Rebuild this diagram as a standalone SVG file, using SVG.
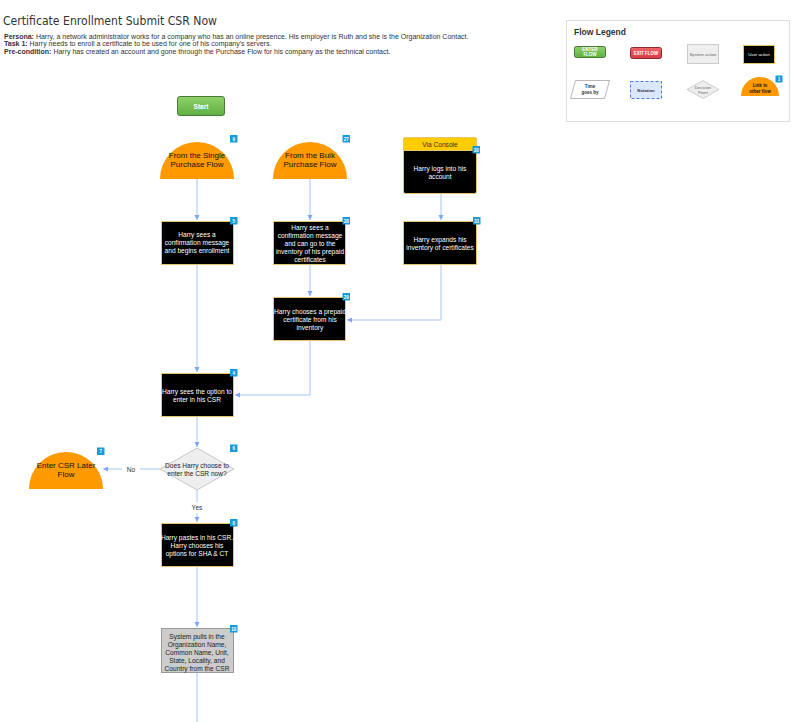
<svg xmlns="http://www.w3.org/2000/svg" width="800" height="722" viewBox="0 0 800 722">
<defs>
<style>
.t{font-family:"Liberation Sans",Arial,sans-serif}
.title{font-family:"DejaVu Sans Condensed","DejaVu Sans",Verdana,sans-serif;font-size:12.5px;fill:#333}
.intro{font-family:"Liberation Sans",Arial,sans-serif;font-size:7px;fill:#333}
.user{fill:#000;stroke:#e6c46a;stroke-width:1}
.ut{font-family:"Liberation Sans",Arial,sans-serif;font-size:6.6px;fill:#fff;text-anchor:middle}
.sys{fill:#cccccc;stroke:#999;stroke-width:1}
.st{font-family:"Liberation Sans",Arial,sans-serif;font-size:6.6px;fill:#222;text-anchor:middle}
.link{fill:#ff9900}
.lt{font-family:"Liberation Sans",Arial,sans-serif;font-size:8px;fill:#111;text-anchor:middle}
.badge{fill:#1a9ad6}
.bt{font-family:"Liberation Sans",Arial,sans-serif;font-size:4.5px;fill:#fff;text-anchor:middle;font-weight:bold}
.conn{fill:none;stroke:#a4c2f8;stroke-width:1}
.lbl{font-family:"Liberation Sans",Arial,sans-serif;font-size:6.6px;fill:#333;text-anchor:middle}
.dec{fill:#eeeeee;stroke:#bbb;stroke-width:0.8}
</style>
<marker id="arr" markerWidth="6" markerHeight="6" refX="5" refY="3" orient="auto" markerUnits="userSpaceOnUse">
<path d="M0,0.5 L5,3 L0,5.5 Z" fill="#7aa6f5"/>
</marker>
<linearGradient id="green" x1="0" y1="0" x2="0" y2="1"><stop offset="0" stop-color="#8fd16a"/><stop offset="1" stop-color="#5fb043"/></linearGradient>
<linearGradient id="red" x1="0" y1="0" x2="0" y2="1"><stop offset="0" stop-color="#f0646c"/><stop offset="1" stop-color="#d83a44"/></linearGradient>
</defs>
<rect width="800" height="722" fill="#fff"/>

<g id="header">
<text class="title" x="3" y="25" textLength="214" lengthAdjust="spacingAndGlyphs">Certificate Enrollment Submit CSR Now</text>
<text class="intro" x="4" y="38.5"><tspan font-weight="bold">Persona:</tspan> Harry, a network administrator works for a company who has an online presence.  His employer is Ruth and she is the Organization Contact.</text>
<text class="intro" x="4" y="46"><tspan font-weight="bold">Task 1:</tspan> Harry needs to enroll a certificate to be used for one of his company's servers.</text>
<text class="intro" x="4" y="53.5"><tspan font-weight="bold">Pre-condition:</tspan> Harry has created an account and gone through the Purchase Flow for his company as the technical contact.</text>
</g>

<g id="legend">
<rect x="566.5" y="20.5" width="223" height="101" fill="#fff" stroke="#ddd"/>
<text class="t" x="574" y="35" font-size="8.5" font-weight="bold" fill="#333">Flow Legend</text>
<rect x="574.5" y="46.5" width="31" height="11" rx="2" fill="url(#green)" stroke="#4a7a36"/>
<text class="t" x="590" y="51" font-size="4.5" fill="#fff" text-anchor="middle" font-weight="bold">ENTER</text>
<text class="t" x="590" y="56" font-size="4.5" fill="#fff" text-anchor="middle" font-weight="bold">FLOW</text>
<rect x="630.5" y="47.5" width="31" height="11" rx="2" fill="url(#red)" stroke="#8a2a30"/>
<text class="t" x="646" y="54.5" font-size="4.5" fill="#fff" text-anchor="middle" font-weight="bold">EXIT FLOW</text>
<rect x="687.5" y="44.5" width="31" height="19" fill="#eeeeee" stroke="#ccc"/>
<text class="t" x="703" y="55.5" font-size="4.3" fill="#666" text-anchor="middle">System action</text>
<rect x="743.5" y="45.5" width="31" height="18" fill="#000" stroke="#e6c46a"/>
<text class="t" x="759" y="56" font-size="4.3" fill="#fff" text-anchor="middle">User action</text>
<path d="M575.5,80.5 L609.5,80.5 L604.5,98.5 L570.5,98.5 Z" fill="#fff" stroke="#999" stroke-width="0.7"/>
<text class="t" x="590" y="88" font-size="4.5" fill="#333" text-anchor="middle" font-weight="bold">Time</text>
<text class="t" x="590" y="94" font-size="4.5" fill="#333" text-anchor="middle" font-weight="bold">goes by</text>
<rect x="630.5" y="81.5" width="31" height="17" fill="#dbe8fb" stroke="#4a7ad8" stroke-dasharray="3,2"/>
<text class="t" x="646" y="91.5" font-size="4.3" fill="#333" text-anchor="middle" font-weight="bold">Notation</text>
<path d="M703,80.5 L719,89.5 L703,98.5 L687,89.5 Z" fill="#eee" stroke="#bbb" stroke-width="0.7"/>
<text class="t" x="703" y="88.5" font-size="4.3" fill="#666" text-anchor="middle">Decision</text>
<text class="t" x="703" y="93.5" font-size="4.3" fill="#666" text-anchor="middle">Point</text>
<path d="M741,96 A19,19 0 0 1 779,96 Z" class="link"/>
<text class="t" x="760" y="87" font-size="4.5" fill="#111" text-anchor="middle" font-weight="bold">Link to</text>
<text class="t" x="760" y="92.5" font-size="4.5" fill="#111" text-anchor="middle" font-weight="bold">other flow</text>
<rect x="775.5" y="75.5" width="7" height="7" class="badge"/>
<text class="bt" x="779" y="80.8">1</text>
</g>

<g id="connectors">
<path class="conn" d="M197,179 V220" marker-end="url(#arr)"/>
<path class="conn" d="M310,179 V220" marker-end="url(#arr)"/>
<path class="conn" d="M441,193 V220" marker-end="url(#arr)"/>
<path class="conn" d="M310,264 V296" marker-end="url(#arr)"/>
<path class="conn" d="M441,264 V320 H347" marker-end="url(#arr)"/>
<path class="conn" d="M197,264 V372" marker-end="url(#arr)"/>
<path class="conn" d="M310,340 V395 H235" marker-end="url(#arr)"/>
<path class="conn" d="M197,416 V447" marker-end="url(#arr)"/>
<path class="conn" d="M160,469 H140"/>
<path class="conn" d="M122,469 H103" marker-end="url(#arr)"/>
<text class="lbl" x="131" y="471.5">No</text>
<path class="conn" d="M197,490 V502"/>
<path class="conn" d="M197,513 V522" marker-end="url(#arr)"/>
<text class="lbl" x="197" y="510">Yes</text>
<path class="conn" d="M197,566 V627" marker-end="url(#arr)"/>
<path class="conn" d="M197,673 V722"/>
</g>

<g id="start">
<rect x="177.5" y="96.5" width="47" height="19" rx="2.5" fill="url(#green)" stroke="#4a7a36"/>
<text class="t" x="201" y="108.5" font-size="6.6" fill="#fff" text-anchor="middle" font-weight="bold">Start</text>
</g>

<g id="single-purchase">
<path d="M160,179 A37,37 0 0 1 234,179 Z" class="link"/>
<text class="lt" x="197" y="157.5">From the Single</text>
<text class="lt" x="197" y="166.5">Purchase Flow</text>
<rect x="230" y="135" width="7.5" height="7.5" class="badge"/>
<text class="bt" x="233.75" y="140.5">9</text>
</g>

<g id="bulk-purchase">
<path d="M273,179 A37,37 0 0 1 347,179 Z" class="link"/>
<text class="lt" x="310" y="157.5">From the Bulk</text>
<text class="lt" x="310" y="166.5">Purchase Flow</text>
<rect x="342.5" y="135" width="7.5" height="7.5" class="badge"/>
<text class="bt" x="346.25" y="140.5">27</text>
</g>

<g id="via-console">
<rect x="403.5" y="137.5" width="73" height="56" rx="2" fill="#000" stroke="#e6c46a"/>
<path d="M403.5,150.5 V139.5 A2,2 0 0 1 405.5,137.5 H474.5 A2,2 0 0 1 476.5,139.5 V150.5 Z" fill="#ffcc00" stroke="#e6c46a"/>
<text class="t" x="440" y="146.5" font-size="6.6" fill="#333" text-anchor="middle">Via Console</text>
<text class="ut" x="440" y="171">Harry logs into his</text>
<text class="ut" x="440" y="179">account</text>
<rect x="472.5" y="146" width="7.5" height="7.5" class="badge"/>
<text class="bt" x="476.25" y="151.5">30</text>
</g>

<g id="confirm-single">
<rect x="161.5" y="221.5" width="72" height="43" class="user"/>
<text class="ut" x="197" y="237">Harry sees a</text>
<text class="ut" x="197" y="245">confirmation message</text>
<text class="ut" x="197" y="253">and begins enrollment</text>
<rect x="230" y="217" width="7.5" height="7.5" class="badge"/>
<text class="bt" x="233.75" y="222.5">5</text>
</g>

<g id="confirm-bulk">
<rect x="273.5" y="221.5" width="72" height="43" class="user"/>
<text class="ut" x="310" y="230">Harry sees a</text>
<text class="ut" x="310" y="238">confirmation message</text>
<text class="ut" x="310" y="246">and can go to the</text>
<text class="ut" x="310" y="254">inventory of his prepaid</text>
<text class="ut" x="310" y="262">certificates</text>
<rect x="342.5" y="217" width="7.5" height="7.5" class="badge"/>
<text class="bt" x="346.25" y="222.5">28</text>
</g>

<g id="expands">
<rect x="403.5" y="221.5" width="73" height="43" class="user"/>
<text class="ut" x="440" y="241.5">Harry expands his</text>
<text class="ut" x="440" y="249.5">inventory of certificates</text>
<rect x="473" y="217" width="7.5" height="7.5" class="badge"/>
<text class="bt" x="476.75" y="222.5">31</text>
</g>

<g id="chooses-prepaid">
<rect x="273.5" y="297.5" width="72" height="43" class="user"/>
<text class="ut" x="310" y="313.5">Harry chooses a prepaid</text>
<text class="ut" x="310" y="321.5">certificate from his</text>
<text class="ut" x="310" y="329.5">inventory</text>
<rect x="342.5" y="293" width="7.5" height="7.5" class="badge"/>
<text class="bt" x="346.25" y="298.5">29</text>
</g>

<g id="option-csr">
<rect x="161.5" y="373.5" width="72" height="43" class="user"/>
<text class="ut" x="197" y="393.5">Harry sees the option to</text>
<text class="ut" x="197" y="401.5">enter in his CSR</text>
<rect x="230" y="369" width="7.5" height="7.5" class="badge"/>
<text class="bt" x="233.75" y="374.5">4</text>
</g>

<g id="decision">
<path d="M197,448 L234,469 L197,490 L160,469 Z" class="dec"/>
<text class="st" x="197" y="467.5" fill="#333">Does Harry choose to</text>
<text class="st" x="197" y="475.5" fill="#333">enter the CSR now?</text>
<rect x="230" y="444.5" width="7.5" height="7.5" class="badge"/>
<text class="bt" x="233.75" y="450">6</text>
</g>

<g id="csr-later">
<path d="M29,489 A37,37 0 0 1 103,489 Z" class="link"/>
<text class="lt" x="66" y="468">Enter CSR Later</text>
<text class="lt" x="66" y="477">Flow</text>
<rect x="97" y="447.5" width="7.5" height="7.5" class="badge"/>
<text class="bt" x="100.75" y="453">7</text>
</g>

<g id="paste-csr">
<rect x="161.5" y="523.5" width="72" height="43" class="user"/>
<text class="ut" x="197" y="539.5">Harry pastes in his CSR.</text>
<text class="ut" x="197" y="547.5">Harry chooses his</text>
<text class="ut" x="197" y="555.5">options for SHA &amp; CT</text>
<rect x="230" y="519" width="7.5" height="7.5" class="badge"/>
<text class="bt" x="233.75" y="524.5">8</text>
</g>

<g id="system-pulls">
<rect x="161.5" y="628.5" width="72" height="44" class="sys"/>
<text class="st" x="197" y="638.5">System pulls in the</text>
<text class="st" x="197" y="646.5">Organization Name,</text>
<text class="st" x="197" y="654.5">Common Name, Unit,</text>
<text class="st" x="197" y="662.5">State, Locality, and</text>
<text class="st" x="197" y="670.5">Country from the CSR</text>
<rect x="230" y="625" width="7.5" height="7.5" class="badge"/>
<text class="bt" x="233.75" y="630.5">10</text>
</g>
</svg>
